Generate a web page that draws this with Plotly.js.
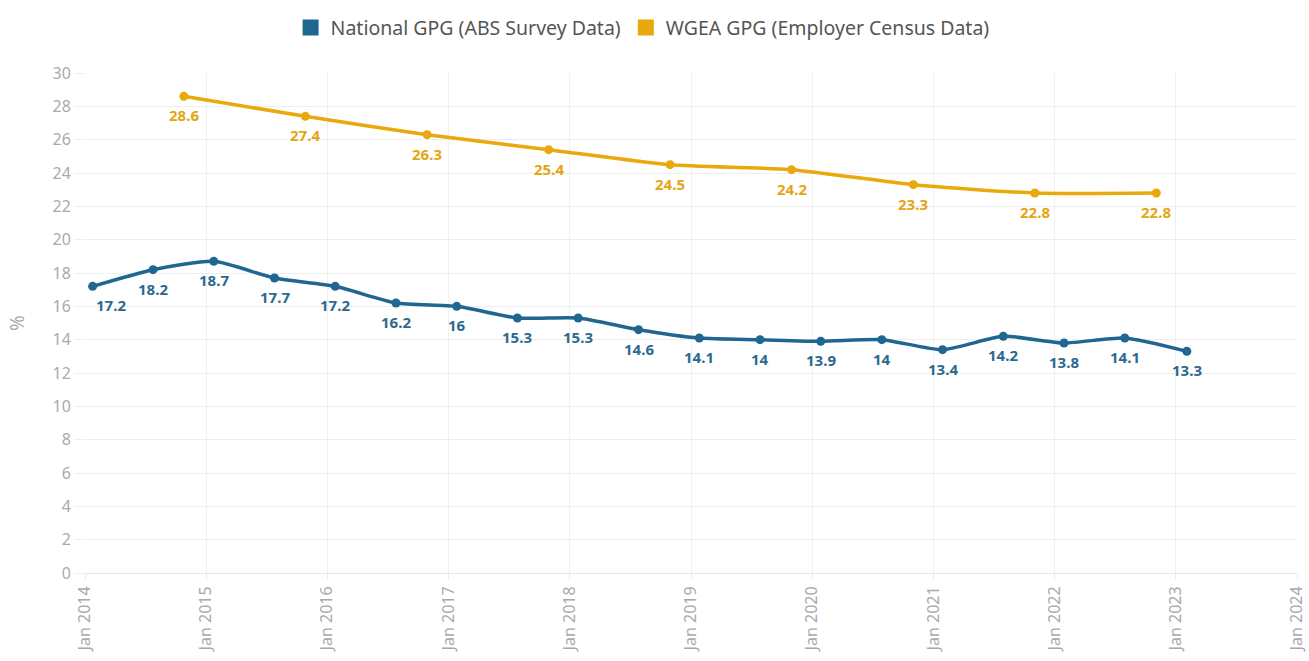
<!DOCTYPE html>
<html>
<head>
<meta charset="utf-8">
<script src="https://cdn.plot.ly/plotly-3.0.1.min.js"></script>
<style>html,body{margin:0;padding:0;background:#fff;}#chart{width:1309px;height:661px;}</style>
</head>
<body>
<div id="chart"></div>
<script>
const absDates = ["2014-01-24","2014-07-25","2015-01-24","2015-07-26","2016-01-25","2016-07-26","2017-01-25","2017-07-27","2018-01-26","2018-07-27","2019-01-26","2019-07-28","2020-01-27","2020-07-29","2021-01-28","2021-07-30","2022-01-29","2022-07-31","2023-02-03"];
const absValues = [17.2,18.2,18.7,17.7,17.2,16.2,16,15.3,15.3,14.6,14.1,14,13.9,14,13.4,14.2,13.8,14.1,13.3];
const wgeaDates = ["2014-10-26","2015-10-27","2016-10-28","2017-10-29","2018-10-30","2019-10-31","2020-11-01","2021-11-02","2022-11-03"];
const wgeaValues = [28.6,27.4,26.3,25.4,24.5,24.2,23.3,22.8,22.8];
const seriesNames = ["National GPG (ABS Survey Data)","WGEA GPG (Employer Census Data)"];
const blue = "#1f6690", yellow = "#e9a80c";
const blueText = "#2b6a8e", yellowText = "#e3a514";
const font = "Noto Sans, Open Sans, sans-serif";

const traces = [
  {x: absDates, y: absValues, mode: "lines+markers", type: "scatter",
   line: {color: blue, width: 3.5, shape: "spline", smoothing: 0.6},
   marker: {color: blue, size: 9}, showlegend: false, cliponaxis: false},
  {x: wgeaDates, y: wgeaValues, mode: "lines+markers", type: "scatter",
   line: {color: yellow, width: 3.5, shape: "spline", smoothing: 0.6},
   marker: {color: yellow, size: 9}, showlegend: false, cliponaxis: false},
  {x: [null], y: [null], mode: "markers", type: "scatter", name: seriesNames[0],
   marker: {color: blue, size: 16, symbol: "square"}},
  {x: [null], y: [null], mode: "markers", type: "scatter", name: seriesNames[1],
   marker: {color: yellow, size: 16, symbol: "square"}}
];

function labels(xs, ys, color) {
  return xs.map((x, i) => ({
    x: x, y: ys[i], xref: "x", yref: "y", text: String(ys[i]), showarrow: false,
    yshift: -19, xshift: (i === 0 && color === blueText) ? 18 : 0,
    font: {family: font, size: 15, color: color, weight: "bold"}
  }));
}

const layout = {
  width: 1309, height: 661,
  margin: {l: 85, r: 12, t: 73, b: 88},
  paper_bgcolor: "#fff", plot_bgcolor: "#fff",
  font: {family: font, color: "#aaa"},
  showlegend: true,
  legend: {orientation: "h", xref: "container", yref: "container",
           x: 0.222, xanchor: "left", y: 0.958, yanchor: "middle",
           font: {size: 19.5, color: "#555", family: font}, itemwidth: 20},
  annotations: labels(absDates, absValues, blueText).concat(labels(wgeaDates, wgeaValues, yellowText)),
  xaxis: {type: "date", range: ["2014-01-01","2024-01-01"], dtick: "M12", tick0: "2014-01-01",
          tickformat: "%b %Y", tickangle: -90, showgrid: true, gridcolor: "#f0f0f0",
          ticks: "outside", ticklen: 6, tickcolor: "#eee",
          tickfont: {size: 16, color: "#aaa"}, zeroline: false, showline: false},
  yaxis: {range: [0, 30], dtick: 2, showgrid: true, gridcolor: "#eeeeee",
          ticks: "outside", ticklen: 10, tickcolor: "#eee",
          tickfont: {size: 16, color: "#aaa"}, zeroline: true, zerolinecolor: "#e6e6e6",
          title: {text: "%", font: {size: 19, color: "#aaa"}, standoff: 22}}
};

Plotly.newPlot("chart", traces, layout, {displayModeBar: false});
</script>
</body>
</html>
